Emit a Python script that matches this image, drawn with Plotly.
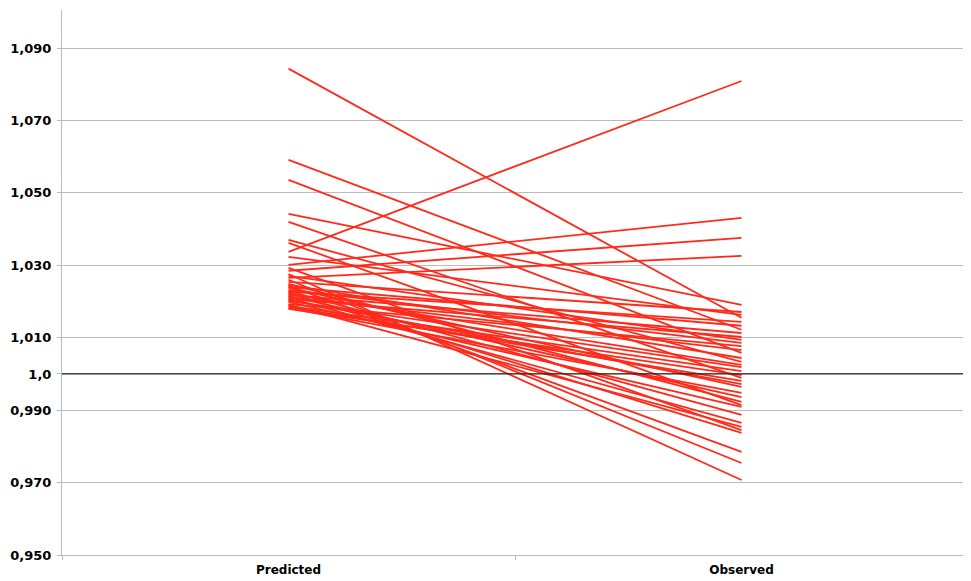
import plotly.graph_objects as go

categories = ["Predicted", "Observed"]

predicted = [1.0843, 1.0591, 1.0536, 1.0442, 1.0420, 1.0362, 1.0370, 1.0337, 1.0323,
             1.0301, 1.0285, 1.0265,
             1.0293, 1.0276, 1.0271, 1.0260, 1.0254, 1.0249, 1.0246, 1.0243, 1.0240,
             1.0238, 1.0232, 1.0229, 1.0227, 1.0224, 1.0221, 1.0218, 1.0215, 1.0213,
             1.0210, 1.0207, 1.0204, 1.0202, 1.0199, 1.0193, 1.0191, 1.0188, 1.0185,
             1.0182, 1.0180]
observed = [1.0155, 1.0122, 1.0058, 1.0191, 0.9989, 0.9914, 1.0033, 1.0809, 1.0163,
            1.0431, 1.0376, 1.0326,
            0.9845, 0.9707, 1.0094, 0.9754, 1.0171, 0.9923, 1.0044, 0.9785, 1.0133,
            0.9964, 1.0086, 0.9887, 1.0144, 0.9837, 1.0025, 1.0113, 0.9936, 1.0066,
            0.9865, 1.0102, 0.9972, 1.0019, 0.9909, 1.0077, 0.9854, 1.0008, 0.9981,
            0.9948, 0.9997]

tick_vals = [0.95, 0.97, 0.99, 1.0, 1.01, 1.03, 1.05, 1.07, 1.09]
tick_text = ["0,950", "0,970", "0,990", "1,0", "1,010", "1,030", "1,050", "1,070", "1,090"]

fig = go.Figure()
for p, o in zip(predicted, observed):
    fig.add_trace(go.Scatter(x=categories, y=[p, o], mode="lines",
                             line=dict(color="#ff2a1a", width=1.8),
                             showlegend=False, hoverinfo="skip"))

fig.add_shape(type="line", xref="paper", x0=0, x1=1, yref="y", y0=1.0, y1=1.0,
              line=dict(color="#222222", width=1.2))

fig.update_layout(
    width=971, height=581,
    margin=dict(l=54, r=11, t=2, b=34, autoexpand=False),
    paper_bgcolor="white", plot_bgcolor="white",
    font=dict(family="DejaVu Sans", color="black"),
    xaxis=dict(type="category", range=[-0.5, 1.5], showgrid=False,
               showline=True, linecolor="#bbbbbb", linewidth=1,
               ticks="outside", tickson="boundaries", ticklen=4, tickcolor="#bbbbbb",
               ticklabelstandoff=4,
               tickfont=dict(family="DejaVu Sans", size=12, color="black", weight="bold")),
    yaxis=dict(range=[0.95, 1.1005], tickvals=tick_vals, ticktext=tick_text,
               showgrid=True, gridcolor="#bbbbbb", gridwidth=1,
               showline=True, linecolor="#bbbbbb", linewidth=1,
               ticks="outside", ticklen=4, tickcolor="#bbbbbb",
               ticklabelstandoff=3, zeroline=False,
               tickfont=dict(family="DejaVu Sans", size=13, color="black", weight="bold")),
)

fig.write_html("out.html")
